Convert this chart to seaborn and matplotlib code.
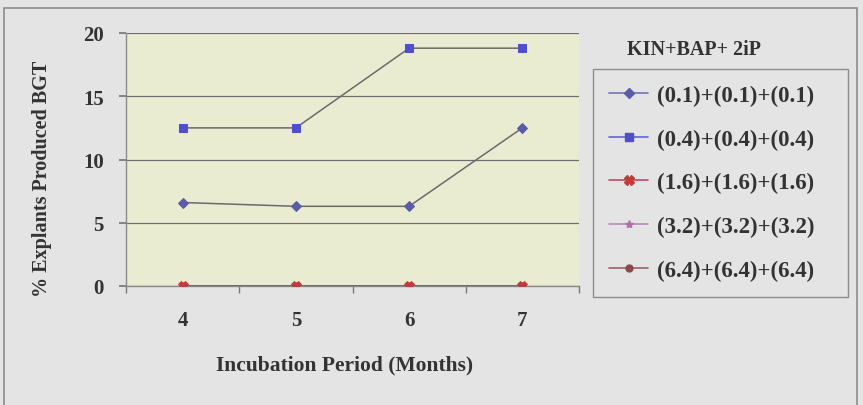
import matplotlib
matplotlib.use("Agg")
import matplotlib.pyplot as plt
import seaborn as sns
import pandas as pd
from matplotlib.lines import Line2D
from matplotlib.patches import Rectangle

months = [4, 5, 6, 7]
series_names = ["(0.1)+(0.1)+(0.1)", "(0.4)+(0.4)+(0.4)", "(1.6)+(1.6)+(1.6)",
                "(3.2)+(3.2)+(3.2)", "(6.4)+(6.4)+(6.4)"]
s1 = [6.6, 6.3, 6.3, 12.5]
s2 = [12.5, 12.5, 18.8, 18.8]
s3 = [0, 0, 0, 0]
s4 = [0, 0, 0, 0]
s5 = [0, 0, 0, 0]
values = [s1, s2, s3, s4, s5]

marker_colors = ["#5b5ba8", "#4f4fc8", "#c03c3c", "#b070a8", "#8a4a4a"]
legend_line_colors = ["#7474b0", "#6464d4", "#c04a6a", "#b888b8", "#98606a"]
markers = ["D", "s", "X", "*", "o"]
msizes = [5, 6, 7, 6, 5]

rows = []
for name, vals in zip(series_names, values):
    for m, v in zip(months, vals):
        rows.append({"Month": m, "Value": v, "Series": name})
df = pd.DataFrame(rows)

sns.set_theme(style="white")
plt.rcParams["font.family"] = ["Liberation Serif", "DejaVu Serif"]
plt.rcParams["font.weight"] = "bold"

BG = "#e4e4e4"
TXT = "#333333"
fig = plt.figure(figsize=(8.63, 4.06), dpi=100, facecolor=BG)
ax = fig.add_axes([126/863, 1-287/406, (579-126)/863, (287-34)/406])
ax.set_facecolor("#eaecd2")

order = [0, 1, 3, 4, 2]
for i in order:
    sub = df[df["Series"] == series_names[i]]
    sns.lineplot(data=sub, x="Month", y="Value", ax=ax, color="#6a6a6a",
                 linewidth=1.1, marker=markers[i], markersize=msizes[i],
                 markerfacecolor=marker_colors[i], markeredgecolor=marker_colors[i],
                 legend=False, zorder=3 + (2 if i == 2 else 0))

ax.set_xlim(3.5, 7.5)
ax.set_ylim(0, 20)
ax.set_yticks([0, 5, 10, 15, 20])
ax.set_xticks(months)
ax.set_xticks([3.5, 4.5, 5.5, 6.5, 7.5], minor=True)
ax.tick_params(axis="x", which="major", length=0, pad=17, labelsize=15, colors=TXT)
ax.tick_params(axis="x", which="minor", length=5, direction="out", color="#777777", bottom=True)
ax.tick_params(axis="y", which="major", length=5, direction="out", color="#777777",
               left=True, pad=11, labelsize=15, labelcolor=TXT)
for lbl in ax.get_xticklabels() + ax.get_yticklabels():
    lbl.set_fontweight("bold")
ax.yaxis.grid(True, color="#6e6e6e", linewidth=0.9)
ax.xaxis.grid(False)
for side in ["top", "right"]:
    ax.spines[side].set_visible(False)
for side in ["left", "bottom"]:
    ax.spines[side].set_color("#8a8a8a")
    ax.spines[side].set_linewidth(1.0)

ax.set_xlabel("Incubation Period (Months)", fontsize=15.5, fontweight="bold", color=TXT)
ax.xaxis.set_label_coords((345-126)/453, -(355-287)/253)
ax.set_ylabel("% Explants Produced BGT", fontsize=14.5, fontweight="bold", color=TXT)
ax.yaxis.set_label_coords(-(126-52)/453, 1-(179-34)/253)

handles = [Line2D([0], [0], color=legend_line_colors[i], linewidth=1.2, marker=markers[i],
                  markersize=msizes[i], markerfacecolor=marker_colors[i],
                  markeredgecolor=marker_colors[i]) for i in range(5)]
lx0, lx1, ly0, ly1 = 593, 848, 70, 296
leg = fig.legend(handles, series_names, loc="upper left", mode="expand",
                 bbox_to_anchor=(lx0/863, 1-ly1/406, (lx1-lx0)/863, (ly1-ly0)/406),
                 bbox_transform=fig.transFigure,
                 frameon=True, fancybox=False, edgecolor="#777777", facecolor=BG,
                 prop={"family": "Liberation Serif", "weight": "bold", "size": 16.5},
                 labelspacing=0.98, handlelength=1.7, borderpad=0.7, handletextpad=0.4,
                 borderaxespad=0)
for t in leg.get_texts():
    t.set_color(TXT)
fig.text(694/863, 1-50/406, "KIN+BAP+ 2iP", ha="center", va="center", fontsize=14.5,
         fontweight="bold", color=TXT)

fig.patches.append(Rectangle((4/863, -0.05), (857-4)/863, 1.05 - 9/406,
                             transform=fig.transFigure, fill=False,
                             edgecolor="#8a8a8a", linewidth=1.2))

fig.savefig("out.png", dpi=100, facecolor=BG)
